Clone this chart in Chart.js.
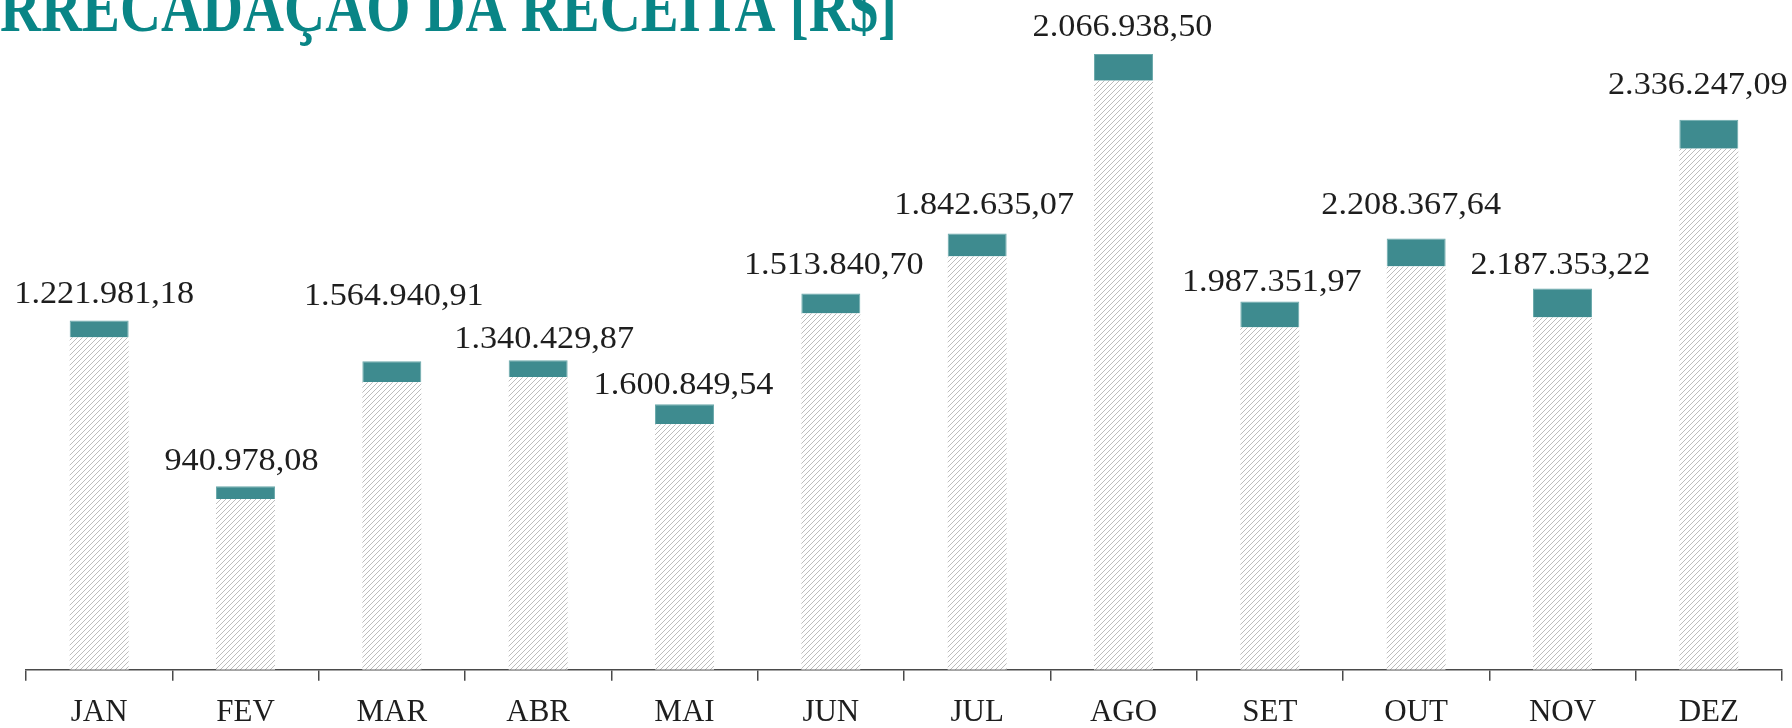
<!DOCTYPE html>
<html lang="pt-BR">
<head>
<meta charset="utf-8">
<title>Arrecadação da Receita</title>
<script src="https://cdn.jsdelivr.net/npm/chart.js@4/dist/chart.umd.min.js"></script>
<style>
  html, body { margin: 0; padding: 0; background: #fff; }
  #grafico-receita { display: block; }
</style>
</head>
<body>
<canvas id="grafico-receita" width="1792" height="728"></canvas>
<script>
// Dados do gráfico
const meses = ["JAN", "FEV", "MAR", "ABR", "MAI", "JUN", "JUL", "AGO", "SET", "OUT", "NOV", "DEZ"];

// Valores escritos sobre as colunas
const receitaTexto = [
  "1.221.981,18", "940.978,08", "1.564.940,91", "1.340.429,87",
  "1.600.849,54", "1.513.840,70", "1.842.635,07", "2.066.938,50",
  "1.987.351,97", "2.208.367,64", "2.187.353,22", "2.336.247,09",
];

// Altura das colunas (parte hachurada + faixa verde)
const baseBarra = [1332000, 684000, 1152000, 1172000, 984000, 1428000, 1656000, 2360000, 1372000, 1616000, 1412000, 2088000];
const topoBarra = [68000, 52000, 84000, 68000, 80000, 80000, 92000, 108000, 104000, 112000, 116000, 116000];

// Ajuste manual da posição dos rótulos (px acima da coluna / deslocamento lateral)
const rotuloAcima = [26, 25, 65, 21, 19, 28, 28, 26, 19, 33, 23, 34];
const rotuloLado = [5, -4, 2, 6, -1, 3, 7, -1, 2, -5, -2, -11];

const fonteSerif = "'Liberation Serif', 'DejaVu Serif', serif";

// Padrão hachurado para a parte de baixo das colunas
function criarHachura() {
  const tile = document.createElement("canvas");
  tile.width = 5;
  tile.height = 5;
  const c = tile.getContext("2d");
  c.fillStyle = "#ffffff";
  c.fillRect(0, 0, 5, 5);
  c.strokeStyle = "#bdbdbd";
  c.lineWidth = 1;
  c.beginPath();
  c.moveTo(-1, 6);
  c.lineTo(6, -1);
  c.moveTo(-1, 1);
  c.lineTo(1, -1);
  c.moveTo(4, 6);
  c.lineTo(6, 4);
  c.stroke();
  return document.createElement("canvas").getContext("2d").createPattern(tile, "repeat");
}

// Rótulos de valor acima das colunas (fonte um pouco alargada)
const rotulosValor = {
  id: "rotulosValor",
  afterDatasetsDraw(chart) {
    const ctx = chart.ctx;
    const meta = chart.getDatasetMeta(1);
    ctx.save();
    ctx.font = "32px " + fonteSerif;
    ctx.fillStyle = "#1e1e1e";
    ctx.textAlign = "center";
    ctx.textBaseline = "middle";
    meta.data.forEach((barra, i) => {
      ctx.save();
      ctx.translate(barra.x + rotuloLado[i], barra.y - rotuloAcima[i]);
      ctx.scale(1.07, 1);
      ctx.fillText(receitaTexto[i], 0, 0);
      ctx.restore();
    });
    ctx.restore();
  },
};

// Título cortado no topo, como no original
const tituloRecortado = {
  id: "tituloRecortado",
  afterDraw(chart) {
    const ctx = chart.ctx;
    const texto = "ARRECADAÇÃO DA RECEITA [R$]";
    ctx.save();
    ctx.font = "bold 54px " + fonteSerif;
    ctx.fillStyle = "#098586";
    ctx.textBaseline = "alphabetic";
    const larguraVisivel = ctx.measureText(texto.slice(1)).width;
    const larguraTotal = ctx.measureText(texto).width;
    const escalaX = 897 / larguraVisivel;
    ctx.translate(897 - larguraTotal * escalaX, 31);
    ctx.scale(escalaX, 1.3);
    ctx.fillText(texto, 0, 0);
    ctx.restore();
  },
};

const hachura = criarHachura();

new Chart(document.getElementById("grafico-receita"), {
  type: "bar",
  data: {
    labels: meses,
    datasets: [
      {
        label: "Base",
        data: baseBarra,
        backgroundColor: hachura,
        borderWidth: 0,
        categoryPercentage: 1,
        barPercentage: 0.403,
      },
      {
        label: "Topo",
        data: topoBarra,
        backgroundColor: "#3e8b8f",
        borderColor: "#6aa9ab",
        borderWidth: 1,
        categoryPercentage: 1,
        barPercentage: 0.403,
      },
    ],
  },
  options: {
    responsive: false,
    animation: false,
    devicePixelRatio: 1,
    layout: {
      padding: { top: 1, left: 26, right: 10, bottom: -16 },
    },
    plugins: {
      legend: { display: false },
      title: { display: false },
      tooltip: { enabled: false },
    },
    scales: {
      x: {
        stacked: true,
        offset: true,
        grid: {
          offset: true,
          drawOnChartArea: false,
          drawTicks: true,
          tickLength: 11,
          color: "#4a4a4a",
          lineWidth: 1.5,
        },
        border: { display: true, color: "#4a4a4a", width: 1.5 },
        ticks: {
          color: "#1e1e1e",
          padding: 13,
          font: { family: fonteSerif, size: 31 },
        },
      },
      y: {
        stacked: true,
        display: false,
        min: 0,
        max: 2680000,
      },
    },
  },
  plugins: [rotulosValor, tituloRecortado],
});
</script>
</body>
</html>
